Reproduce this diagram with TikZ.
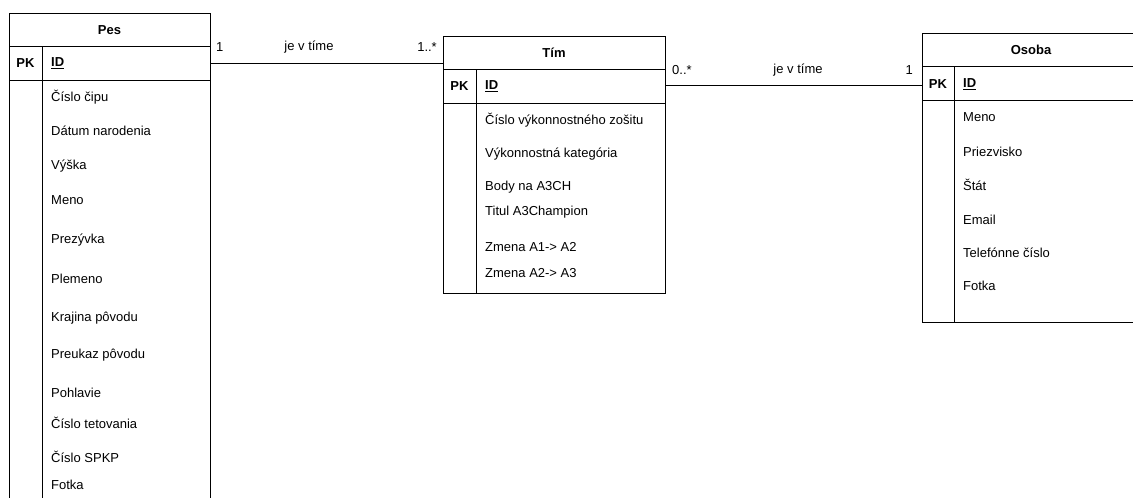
\documentclass[tikz,border=0pt]{standalone}
\usepackage{fontspec}
\setmainfont{Liberation Sans}
\usetikzlibrary{positioning}

\begin{document}
\begin{tikzpicture}[
    x=1pt, y=-1pt,
    every node/.style={font=\fontsize{13}{15}\selectfont},
    entity/.style={rectangle, draw, line width=1pt, anchor=north west, inner sep=0pt},
    entname/.style={font=\fontsize{13}{15}\selectfont\bfseries},
    pkey/.style={inner sep=0pt, font=\fontsize{13}{15}\selectfont\bfseries},
    attr/.style={anchor=west, inner sep=0pt},
    divider/.style={line width=1pt},
    relation/.style={line width=1pt},
    mult/.style={inner sep=0pt}
]
\useasboundingbox (0,0) rectangle (1133,498);
\clip (0,0) rectangle (1133,498);

% Pes
\node[entity, minimum width=201pt, minimum height=500pt] (pes) at (9,13) {};
\draw[divider] ([yshift=-33pt]pes.north west) -- ([yshift=-33pt]pes.north east);
\draw[divider] ([yshift=-67pt]pes.north west) -- ([yshift=-67pt]pes.north east);
\draw[divider] ([xshift=33pt,yshift=-33pt]pes.north west) -- ([xshift=33pt]pes.south west);
\node[entname] (pesName) at (109.5,30) {Pes};
\node[pkey] (pesPK) at (25.5,63.5) {PK};
\node[pkey, anchor=west] (pesID) at (51,63.5) {\underline{ID}};
\foreach \y/\t [count=\i] in {97/Číslo čipu, 131/Dátum narodenia, 166/Výška, 200/Meno,
    240/Prezývka, 279/Plemeno, 318/Krajina pôvodu, 355/Preukaz pôvodu, 393/Pohlavie,
    423/Číslo tetovania, 457/Číslo SPKP, 485/Fotka}
  \node[attr] (pes-\i) at (51,\y) {\t};

% Tim
\node[entity, minimum width=222pt, minimum height=257pt] (tim) at (443,36) {};
\draw[divider] ([yshift=-33pt]tim.north west) -- ([yshift=-33pt]tim.north east);
\draw[divider] ([yshift=-67pt]tim.north west) -- ([yshift=-67pt]tim.north east);
\draw[divider] ([xshift=33pt,yshift=-33pt]tim.north west) -- ([xshift=33pt]tim.south west);
\node[entname] (timName) at (554,53) {Tím};
\node[pkey] (timPK) at (459.5,86.5) {PK};
\node[pkey, anchor=west] (timID) at (485,86.5) {\underline{ID}};
\foreach \y/\t [count=\i] in {120/Číslo výkonnostného zošitu, 154/Výkonnostná kategória,
    187/Body na A3CH, 212/Titul A3Champion, 247/Zmena A1-> A2, 273/Zmena A2-> A3}
  \node[attr] (tim-\i) at (485,\y) {\t};

% Osoba
\node[entity, minimum width=222pt, minimum height=289pt] (osoba) at (922,33) {};
\draw[divider] ([yshift=-33pt]osoba.north west) -- ([yshift=-33pt]osoba.north east);
\draw[divider] ([yshift=-67pt]osoba.north west) -- ([yshift=-67pt]osoba.north east);
\draw[divider] ([xshift=32pt,yshift=-33pt]osoba.north west) -- ([xshift=32pt]osoba.south west);
\node[entname] (osobaName) at (1031,50) {Osoba};
\node[pkey] (osobaPK) at (938,84) {PK};
\node[pkey, anchor=west] (osobaID) at (963,84) {\underline{ID}};
\foreach \y/\t [count=\i] in {117/Meno, 152/Priezvisko, 185/Štát, 220/Email,
    253/Telefónne číslo, 286/Fotka}
  \node[attr] (osoba-\i) at (963,\y) {\t};

% Relations
\draw[relation] (pes.east |- pesID) -- (tim.west |- pesID);
\node[mult, anchor=west] (pesMult) at (216,47) {1};
\node[mult] (rel1) at (309,47) {je v tíme};
\node[mult, anchor=east] (timMult1) at (437,47) {1..*};

\draw[relation] ([yshift=-1pt]tim.east |- osobaID) -- ([yshift=-1pt]osoba.west |- osobaID);
\node[mult, anchor=west] (timMult2) at (672,70) {0..*};
\node[mult] (rel2) at (798,70) {je v tíme};
\node[mult, anchor=east] (osobaMult) at (913,70) {1};
\end{tikzpicture}
\end{document}
